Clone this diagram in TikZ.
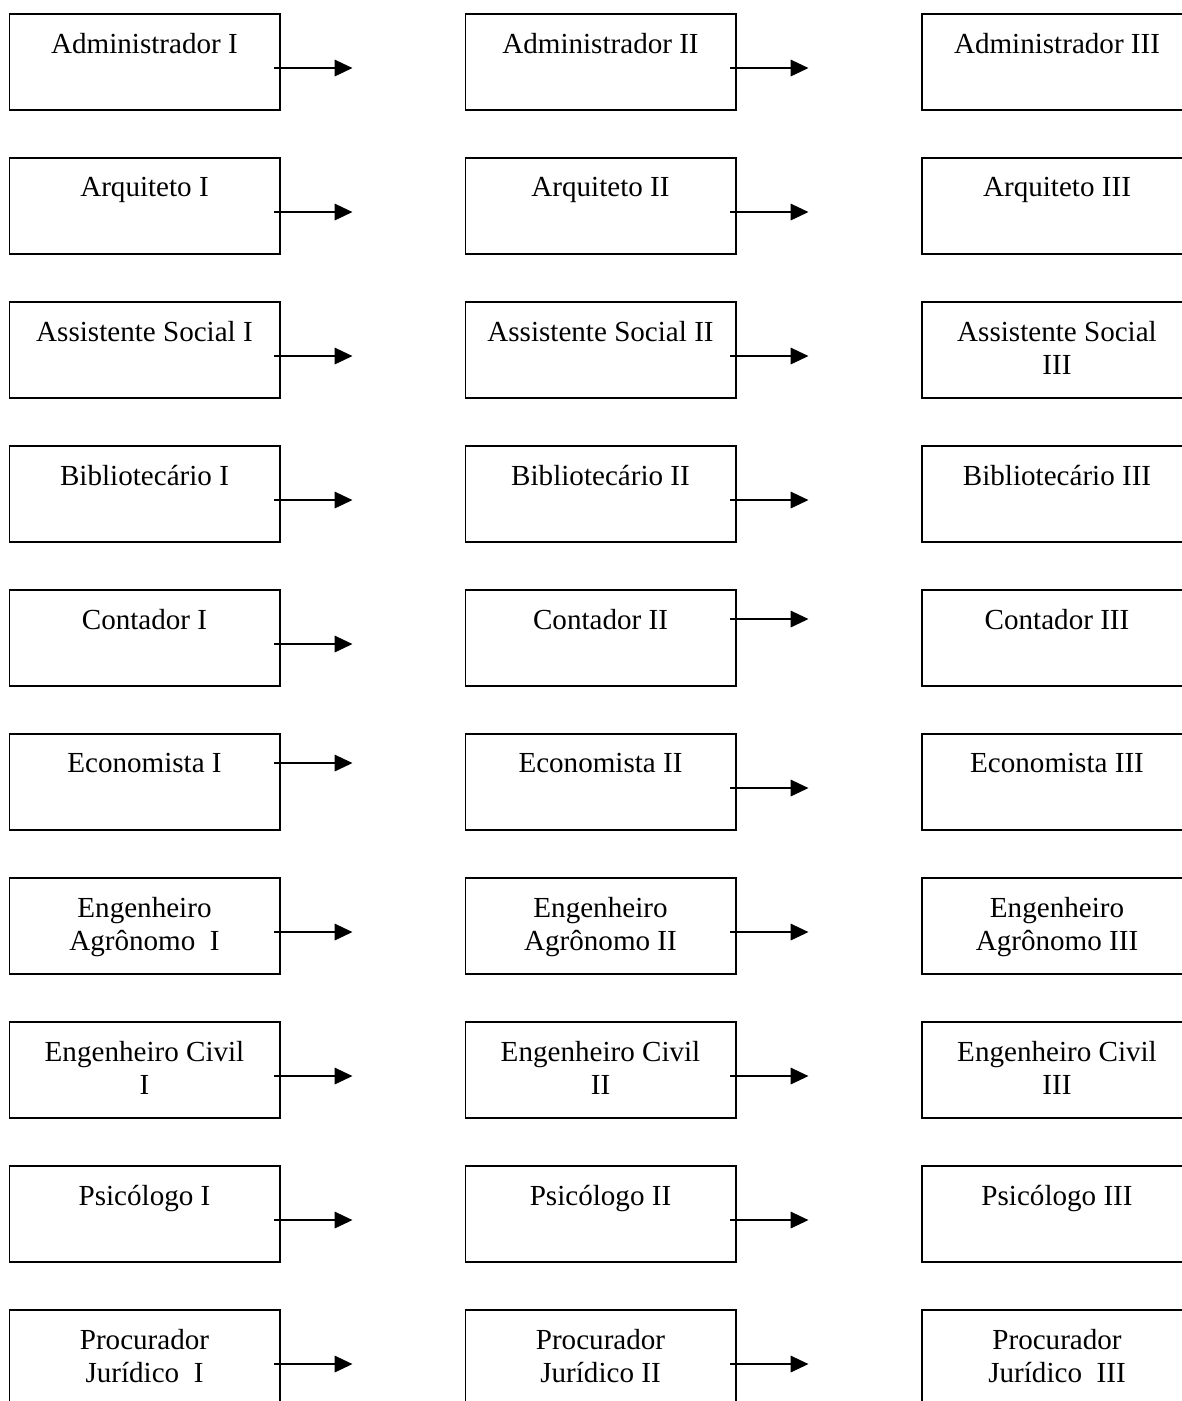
\documentclass[tikz,border=0pt]{standalone}
\usepackage{fontspec}
\setmainfont{Liberation Serif}
\usepackage{tikz}
\usetikzlibrary{arrows.meta, positioning}

\tikzset{
    caixa/.style={draw, line width=0.8pt, minimum width=111.4pt, minimum height=39.6pt, inner sep=0pt},
    rotulo/.style={anchor=north, yshift=-8pt, inner sep=0pt, align=center, font=\fontsize{12}{13.8}\selectfont},
    seta/.style={line width=0.8pt, -{Triangle[length=7.4pt, width=6.8pt]}}
}

\begin{document}
\begin{tikzpicture}[x=0.4125pt, y=-0.4125pt]
    \useasboundingbox (0,0) rectangle (1181,1401);

    % Cargos: linha / nome / nivel I / nivel II / nivel III / altura das setas
    \foreach \i/\nome/\ta/\tb/\tc/\sa/\sb in {
        0/adm/{Administrador I}/{Administrador II}/{Administrador III}/55/55,
        1/arq/{Arquiteto I}/{Arquiteto II}/{Arquiteto III}/55/55,
        2/ass/{Assistente Social I}/{Assistente Social II}/{Assistente Social\\III}/55/55,
        3/bib/{Bibliotecário I}/{Bibliotecário II}/{Bibliotecário III}/55/55,
        4/con/{Contador I}/{Contador II}/{Contador III}/55/30,
        5/eco/{Economista I}/{Economista II}/{Economista III}/30/55,
        6/agr/{Engenheiro\\Agrônomo\ \ I}/{Engenheiro\\Agrônomo II}/{Engenheiro\\Agrônomo III}/55/55,
        7/civ/{Engenheiro Civil\\I}/{Engenheiro Civil\\II}/{Engenheiro Civil\\III}/55/55,
        8/psi/{Psicólogo I}/{Psicólogo II}/{Psicólogo III}/55/55,
        9/pro/{Procurador\\Jurídico\ \ I}/{Procurador\\Jurídico II}/{Procurador\\Jurídico\ \ III}/55/55%
    }{
        % Caixas
        \node[caixa] (\nome1) at (144.5, {62+144*\i}) {};
        \node[caixa] (\nome2) at (600.5, {62+144*\i}) {};
        \node[caixa] (\nome3) at (1057, {62+144*\i}) {};
        \node[rotulo] (\nome1t) at (\nome1.north) {\ta};
        \node[rotulo] (\nome2t) at (\nome2.north) {\tb};
        \node[rotulo] (\nome3t) at (\nome3.north) {\tc};

        % Setas
        \coordinate (\nome1s) at ([xshift=-2.5pt, yshift=-\sa*0.4125pt]\nome1.north east);
        \coordinate (\nome1f) at ([xshift=32.2pt]\nome1s);
        \coordinate (\nome2s) at ([xshift=-2.5pt, yshift=-\sb*0.4125pt]\nome2.north east);
        \coordinate (\nome2f) at ([xshift=32.2pt]\nome2s);
        \draw[seta] (\nome1s) -- (\nome1f);
        \draw[seta] (\nome2s) -- (\nome2f);
    }
\end{tikzpicture}
\end{document}
